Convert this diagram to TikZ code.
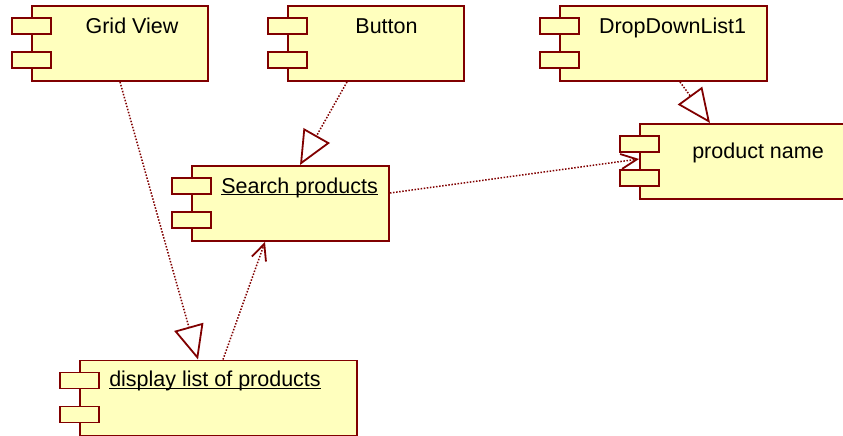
\documentclass[tikz,border=0pt]{standalone}
\usepackage{fontspec}
\setmainfont{Liberation Sans}
\usetikzlibrary{arrows.meta,positioning,calc}
\definecolor{compborder}{HTML}{800000}
\definecolor{compfill}{HTML}{FFFFBE}
\tikzstyle{component} = [rectangle, draw=compborder, line width=1.9pt, fill=compfill,
    minimum height=75pt, inner sep=0pt]
\tikzstyle{comptab} = [rectangle, draw=compborder, line width=1.9pt, fill=compfill,
    minimum width=39pt, minimum height=16pt, inner sep=0pt]
\tikzstyle{compname} = [font=\fontsize{21.5}{24}\selectfont, inner sep=0pt, text=black]
\tikzstyle{realize} = [-{Triangle[open, length=34pt, width=30pt, line width=1.8pt]},
    line width=1.5pt, dash pattern=on 1.5pt off 1.6pt, compborder]
\tikzstyle{depend} = [-{Straight Barb[length=16pt, width=15pt, line width=1.8pt]},
    line width=1.5pt, dash pattern=on 1.5pt off 1.6pt, compborder]

\begin{document}
\begin{tikzpicture}[x=1pt, y=-1pt]
\useasboundingbox (0,0) rectangle (843,436);
\clip (0,0) rectangle (843,436);

\node[component, minimum width=176pt,
  label={[compname, anchor=base, xshift=12pt, yshift=-28pt]north:Grid View}] (grid) at (120,43.5) {};
\node[component, minimum width=176pt,
  label={[compname, anchor=base, xshift=10.5pt, yshift=-28pt]north:Button}] (button) at (376,43.5) {};
\node[component, minimum width=207pt,
  label={[compname, anchor=base, xshift=9pt, yshift=-28pt]north:DropDownList1}] (ddl) at (663.5,43.5) {};
\node[component, minimum width=217pt,
  label={[compname, anchor=base, xshift=9.5pt, yshift=-35pt]north:product name}] (pname) at (748.5,161.5) {};
\node[component, minimum width=197pt,
  label={[compname, anchor=base west, xshift=30pt, yshift=-28pt]north west:\underline{\smash{Search products}}}] (search) at (290.5,203.5) {};
\node[component, minimum width=277pt,
  label={[compname, anchor=base west, xshift=30pt, yshift=-27pt]north west:\underline{\smash{display list of products}}}] (display) at (218.5,398) {};

% the two tabs on the left side of each component
\foreach \comp in {grid,button,ddl,pname,search,display} {
  \node[comptab, anchor=north] at ([yshift=-12pt]\comp.north west) {};
  \node[comptab, anchor=north] at ([yshift=-46pt]\comp.north west) {};
}

\draw[realize] (grid.south) -- ([xshift=-20.5pt]display.north);
\draw[realize] ([xshift=-29pt]button.south) -- ([xshift=9.5pt]search.north);
\draw[realize] ([xshift=16.5pt]ddl.south) -- ([xshift=-38.5pt]pname.north);
\draw[depend] ([yshift=10.5pt]search.east) -- ([yshift=2.5pt]pname.west);
\draw[depend] ([xshift=4.5pt]display.north) -- ([xshift=-25.5pt]search.south);
\end{tikzpicture}
\end{document}
